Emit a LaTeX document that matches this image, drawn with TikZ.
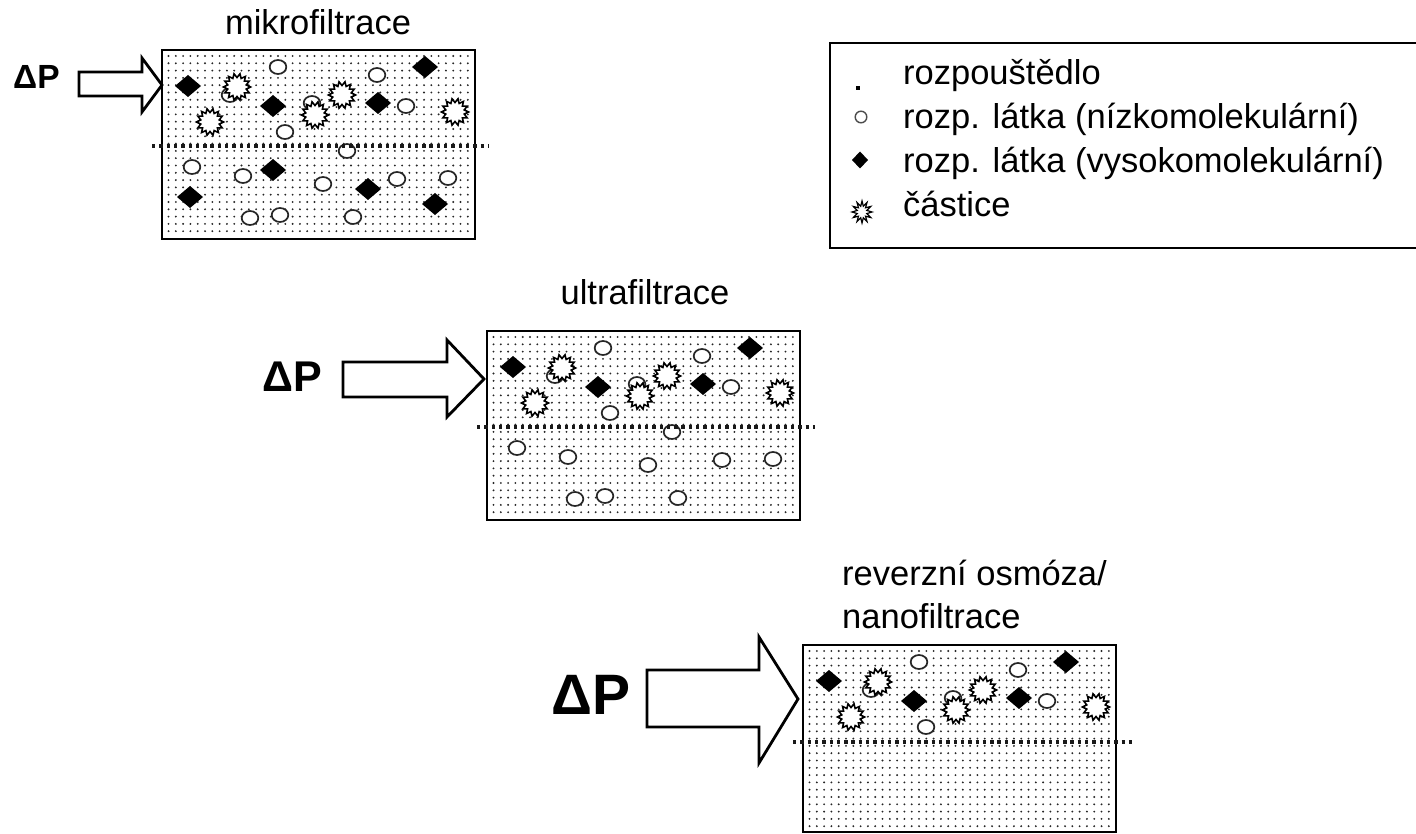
\documentclass[tikz,border=0pt]{standalone}
\usepackage{fontspec}
\setmainfont{Liberation Sans}
\newcommand{\mydots}[2]{%
  \foreach \i in {0,...,41}{\foreach \j in {0,...,24}{%
    \fill[black!85] (#1+6.5+\i*7.3, #2+6+\j*7.3) circle [radius=1.05];}}}
\begin{document}
\begin{tikzpicture}[x=1pt,y=-1pt,
  lbl/.style={font=\fontsize{34.5}{40}\selectfont, inner sep=0pt},
  frame/.style={draw=black, line width=2pt},
  sep/.style={line width=3.4pt, dash pattern=on 3.4pt off 3.9pt, black!90},
  blockarrow/.style={draw=black, fill=white, line width=2.8pt, line join=miter},
  lowmol/.pic={\filldraw[fill=white, draw=black!85, line width=1.7pt] (0,0) ellipse [x radius=8.3, y radius=7];},
  highmol/.pic={\fill[black] (0,-11) -- (13,0) -- (0,11) -- (-13,0) -- cycle;},
  partic/.pic={\filldraw[fill=white, draw=black, line width=1.6pt]
     plot[samples at={0,...,27}, variable=\k] ({(11.5+2*cos(180*\k))*cos(\k*12.857)}, {(11.5+2*cos(180*\k))*sin(\k*12.857)}) -- cycle;},
  smallpartic/.pic={\filldraw[fill=white, draw=black, line width=1.2pt]
     plot[samples at={0,...,23}, variable=\k] ({(7.5+2.5*cos(180*\k))*cos(\k*15)}, {(8.5+2.5*cos(180*\k))*sin(\k*15)}) -- cycle;},
]
\useasboundingbox (0,0) rectangle (1416,834);

% ---------- particle sets (box 1 coordinates) ----------
\newcommand{\upperset}{%
  \foreach \p in {(278,67),(377,75),(230,95),(312,103),(406,106),(285,132)} \pic at \p {lowmol};
  \foreach \p in {(237,87),(210,122),(342,95),(315,115),(455,112)} \pic at \p {partic};
  \foreach \p in {(188,86),(273,106),(378,103),(425,67)} \pic at \p {highmol};}
\newcommand{\lowercircles}{%
  \foreach \p in {(347,151),(192,167),(243,176),(323,184),(397,179),(448,178),(250,218),(280,215),(353,217)} \pic at \p {lowmol};}

% ---------- box 1: mikrofiltrace ----------
\mydots{162}{50}
\draw[frame] (162,50) rectangle (475,239);
\upperset
\lowercircles
\foreach \p in {(273,170),(190,197),(368,189),(435,204)} \pic at \p {highmol};
\draw[sep] (152,146) -- (488,146);
\node[lbl, anchor=base] (t1) at (318,35) {mikrofiltrace};
\draw[blockarrow] (79,72) -- (142,72) -- (142,58) -- (162,85) -- (142,112) -- (142,96) -- (79,96) -- cycle;
\node[inner sep=0pt, anchor=base west, font=\fontsize{33.5}{38}\selectfont\bfseries] (dp1) at (13,89) {ΔP};

% ---------- box 2: ultrafiltrace ----------
\begin{scope}[shift={(325,281)}]
\mydots{162}{50}
\draw[frame] (162,50) rectangle (475,239);
\upperset
\lowercircles
\draw[sep] (152,146) -- (490,146);
\end{scope}
\node[lbl, anchor=base] (t2) at (645,305) {ultrafiltrace};
\draw[blockarrow] (343,362) -- (447,362) -- (447,340) -- (484,379) -- (447,417) -- (447,397) -- (343,397) -- cycle;
\node[inner sep=0pt, anchor=base west, font=\fontsize{43}{48}\selectfont\bfseries] (dp2) at (262,391) {ΔP};

% ---------- box 3: reverzni osmoza / nanofiltrace ----------
\begin{scope}[shift={(641,595)}]
\mydots{162}{50}
\draw[frame] (162,50) rectangle (475,237);
\upperset
\draw[sep] (152,147) -- (491,147);
\end{scope}
\node[lbl, anchor=base west] (t3a) at (842,585) {reverzní osmóza/};
\node[lbl, anchor=base west] (t3b) at (842,628) {nanofiltrace};
\draw[blockarrow] (647,670) -- (759,670) -- (759,637) -- (798,699) -- (759,763) -- (759,727) -- (647,727) -- cycle;
\node[inner sep=0pt, anchor=base west, font=\fontsize{57}{62}\selectfont\bfseries] (dp3) at (551,714) {ΔP};

% ---------- legend ----------
\draw[frame] (1420,43) -- (830,43) -- (830,248) -- (1420,248);
\fill[black] (856,86) rectangle (860,90);
\draw[black!70, line width=1.4pt] (861,117) circle [radius=5.8];
\fill[black] (860,151.5) -- (868,160) -- (860,168.5) -- (852,160) -- cycle;
\pic at (862,212) {smallpartic};
\node[lbl, anchor=base west] (l1) at (903,85) {rozpouštědlo};
\node[lbl, anchor=base west] (l2) at (903,129) {rozp. látka (nízkomolekulární)};
\node[lbl, anchor=base west] (l3) at (903,173) {rozp. látka (vysokomolekulární)};
\node[lbl, anchor=base west] (l4) at (903,217) {částice};
\end{tikzpicture}
\end{document}
